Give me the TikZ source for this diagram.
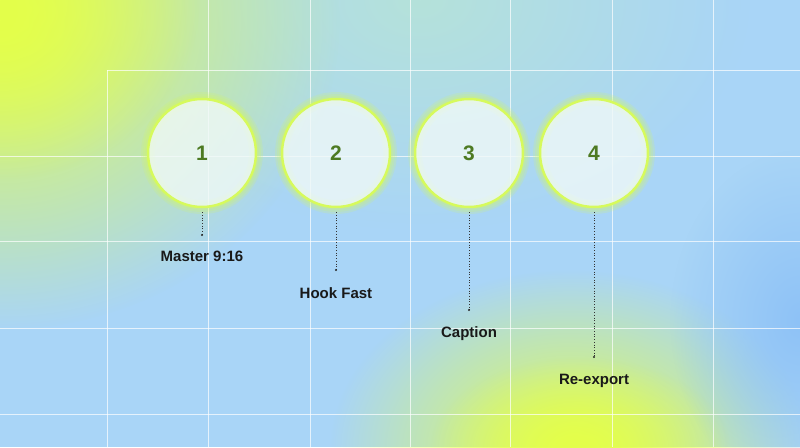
\documentclass[tikz,border=0pt]{standalone}
\usepackage{fontspec}
\setmainfont{Liberation Sans}
\usetikzlibrary{fadings}
\tikzfading[name=softfade, inner color=transparent!0, outer color=transparent!100]
\definecolor{bgblue}{HTML}{A9D5F7}
\definecolor{ylw}{HTML}{E4FF4A}
\definecolor{teal}{HTML}{B5E2DA}
\definecolor{deepblue}{HTML}{8EC2F6}
\definecolor{rim}{HTML}{D6FA5C}
\definecolor{numgreen}{HTML}{4D7A22}
\tikzset{
  stepcirc/.style={circle, minimum size=108pt, inner sep=0pt, fill=white!80!teal, fill opacity=0.8, text opacity=1, draw=rim, line width=2.5pt, font=\bfseries\fontsize{21}{24}\selectfont, text=numgreen},
  glow/.style={draw=rim, line width=#1, opacity=0.18},
  lead/.style={draw=black!80, line width=0.7pt, dotted},
  tag/.style={font=\bfseries\fontsize{15}{18}\selectfont, text=black!90},
  gridln/.style={draw=white, line width=0.6pt, opacity=0.7}
}
\begin{document}
\begin{tikzpicture}[x=1pt,y=-1pt]
\useasboundingbox (0,0) rectangle (800,447);
\begin{scope}
\clip (0,0) rectangle (800,447);
\fill[bgblue] (0,0) rectangle (800,447);
\fill[teal, path fading=softfade] (420,0) ellipse (330 and 230);
\fill[ylw, path fading=softfade] (0,20) ellipse (340 and 310);
\fill[ylw, path fading=softfade] (0,0) ellipse (200 and 180);
\fill[ylw, path fading=softfade] (570,450) ellipse (240 and 180);
\fill[ylw, path fading=softfade] (580,447) ellipse (150 and 90);
\fill[deepblue, path fading=softfade] (800,320) ellipse (130 and 170);
\end{scope}
% grid
\foreach \x in {208,310,410,510,612,713} \draw[gridln] (\x,0) -- (\x,447);
\draw[gridln] (107,70) -- (107,447);
\draw[gridln] (107,70) -- (800,70);
\foreach \y in {156,241,328,414} \draw[gridln] (0,\y) -- (800,\y);
% circles
\foreach \n/\x in {1/202,2/336,3/469,4/594}{
  \foreach \w in {14,10,6} \draw[glow=\w pt] (\x,153) circle (54);
  \node[stepcirc] (c\n) at (\x,153) {\n};
}
\coordinate (e1) at (202,235);
\coordinate (e2) at (336,270);
\coordinate (e3) at (469,310);
\coordinate (e4) at (594,357);
\foreach \n in {1,2,3,4}{
  \draw[lead] (c\n.south) ++(0,4) -- (e\n);
  \fill[black!85] (e\n) circle (1.2);
}
\node[tag] (t1) at (202,256) {Master 9:16};
\node[tag] (t2) at (336,293) {Hook Fast};
\node[tag] (t3) at (469,334) {Caption};
\node[tag] (t4) at (594,381) {Re-export};
\end{tikzpicture}
\end{document}
